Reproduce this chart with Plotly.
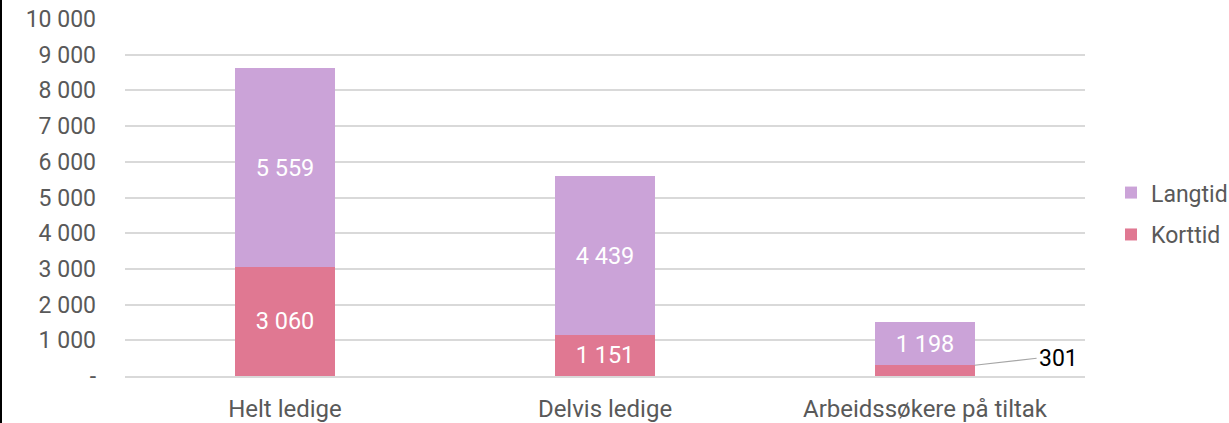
import plotly.graph_objects as go

categories = ["Helt ledige", "Delvis ledige", "Arbeidssøkere på tiltak"]
korttid = [3060, 1151, 301]
langtid = [5559, 4439, 1198]
y_ticks = list(range(0, 10001, 1000))


def fmt(v):
    return f"{v:,}".replace(",", " ")


y_ticktext = ["-" if v == 0 else fmt(v) for v in y_ticks]

# small values get an outside callout instead of an inside label
kort_text = [fmt(v) if v > 500 else "" for v in korttid]

label_font = dict(color="white", size=23.5, family="Roboto")

fig = go.Figure()
fig.add_trace(go.Bar(
    x=categories, y=korttid, name="Korttid", legendgroup="kort", legendrank=2,
    marker=dict(color="#E07892", line_width=0),
    text=kort_text, textposition="inside", insidetextanchor="middle",
    textfont=label_font, width=0.31,
))
fig.add_trace(go.Bar(
    x=categories, y=langtid, name="Langtid", legendgroup="lang", legendrank=1,
    marker=dict(color="#CBA3D8", line_width=0),
    text=[fmt(v) for v in langtid], textposition="inside", insidetextanchor="middle",
    textfont=label_font, width=0.31,
))

# callout for the small Korttid value
fig.add_annotation(
    x=2.155, y=korttid[2], xref="x", yref="y",
    text=fmt(korttid[2]), showarrow=True, arrowhead=0, arrowwidth=1.2,
    arrowcolor="#A6A6A6", ax=62, ay=-7, xanchor="left",
    font=dict(color="black", size=23, family="Roboto"),
)

# thin frame line at the left edge of the image
fig.add_shape(type="line", xref="paper", yref="paper",
              x0=-124 / 960, x1=-124 / 960, y0=-47 / 357, y1=19 / 357 + 1,
              line=dict(color="black", width=2))

fig.update_layout(
    width=1229, height=423,
    margin=dict(l=125, r=144, t=19, b=47, autoexpand=False),
    barmode="stack",
    plot_bgcolor="white", paper_bgcolor="white",
    font=dict(family="Roboto", color="#595959", size=22),
    showlegend=True,
    legend=dict(traceorder="grouped", xref="container", yref="container",
                x=1111 / 1229, xanchor="left", y=0.495, yanchor="middle",
                font=dict(size=23, color="#595959"), itemwidth=30,
                tracegroupgap=9),
    uniformtext=dict(mode="show", minsize=10),
)
fig.update_yaxes(range=[0, 10000], tickvals=y_ticks, ticktext=y_ticktext,
                 showgrid=True, gridcolor="#D9D9D9", gridwidth=1.5,
                 zeroline=False, ticks="", ticklabelstandoff=28, automargin=False,
                 tickfont=dict(size=23, color="#595959"))
fig.update_xaxes(showgrid=False, showline=True, linecolor="#D9D9D9", linewidth=1.5,
                 ticks="", ticklabelstandoff=10, automargin=False,
                 tickfont=dict(size=24, color="#595959"))

fig.write_html("out.html", config={"displayModeBar": False},
               post_script="document.body.style.margin='0';")
